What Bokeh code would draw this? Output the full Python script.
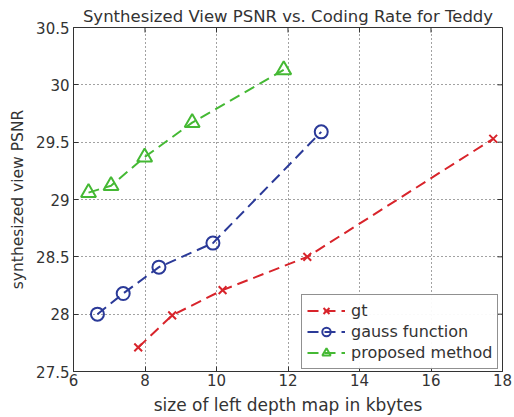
from bokeh.plotting import figure
from bokeh.models import Range1d, FixedTicker, Legend, LegendItem
from bokeh.embed import file_html
from bokeh.resources import INLINE

gt_x = [7.81, 8.76, 10.17, 12.54, 17.74]
gt_y = [27.71, 27.99, 28.21, 28.50, 29.53]
gauss_x = [6.67, 7.39, 8.39, 9.90, 12.93]
gauss_y = [28.00, 28.18, 28.41, 28.62, 29.59]
prop_x = [6.42, 7.05, 7.99, 9.32, 11.88]
prop_y = [29.06, 29.12, 29.37, 29.67, 30.13]

x_ticks = [6, 8, 10, 12, 14, 16, 18]
y_ticks = [27.5, 28, 28.5, 29, 29.5, 30, 30.5]

FONT = "DejaVu Sans"
TXT = "#333333"

p = figure(width=514, height=417, output_backend="svg", toolbar_location=None,
           x_range=Range1d(6, 18), y_range=Range1d(27.5, 30.5),
           min_border_left=73, min_border_right=12, min_border_top=27, min_border_bottom=46,
           title="Synthesized View PSNR vs. Coding Rate for Teddy")
p.title.align = "center"
p.title.text_font = FONT
p.title.text_font_size = "16.5px"
p.title.text_font_style = "normal"
p.title.text_color = TXT
p.title.standoff = 3
p.title.offset = 0

p.outline_line_color = "#333333"
p.outline_line_width = 1

for ax in (p.xaxis[0], p.yaxis[0]):
    ax.major_label_text_font = FONT
    ax.major_label_text_font_size = "15px"
    ax.major_label_text_color = TXT
    ax.axis_label_text_font = FONT
    ax.axis_label_text_font_style = "normal"
    ax.axis_label_text_color = TXT
    ax.major_tick_in = 5
    ax.major_tick_out = 0
    ax.minor_tick_line_color = None
    ax.axis_line_color = "#333333"
    ax.major_tick_line_color = "#333333"

p.xaxis.axis_label_text_font_size = "17px"
p.yaxis.axis_label_text_font_size = "15.5px"
p.xaxis.ticker = FixedTicker(ticks=x_ticks)
p.yaxis.ticker = FixedTicker(ticks=y_ticks)
p.xaxis.axis_label = "size of left depth map in kbytes"
p.yaxis.axis_label = "synthesized view PSNR"
p.xaxis.major_label_standoff = 2
p.yaxis.major_label_standoff = 4
p.xaxis.axis_label_standoff = 6
p.yaxis.axis_label_standoff = 6

p.xgrid.ticker = FixedTicker(ticks=x_ticks)
p.ygrid.ticker = FixedTicker(ticks=y_ticks)
for g in (p.xgrid[0], p.ygrid[0]):
    g.grid_line_color = "#444444"
    g.grid_line_dash = "1 3"
    g.grid_line_width = 1

# inward tick marks on the top and right edges of the box (clipped to the frame)
top_x = x_ticks[1:-1]
right_y = y_ticks[1:-1]
p.scatter(top_x, [y_ticks[-1]] * len(top_x), marker="dash", size=10, angle=1.5708,
          line_color="#333333", line_width=1)
p.scatter([x_ticks[-1]] * len(right_y), right_y, marker="dash", size=10,
          line_color="#333333", line_width=1)

gl = p.line(gt_x, gt_y, line_color="#d8242b", line_width=2, line_dash="11 6")
gm = p.scatter(gt_x, gt_y, marker="x", size=11, line_color="#d8242b", line_width=2)
bl = p.line(gauss_x, gauss_y, line_color="#2b3a98", line_width=2, line_dash="11 6")
bm = p.scatter(gauss_x, gauss_y, marker="circle", size=13, line_color="#2b3a98",
               fill_color=None, line_width=2)
pl = p.line(prop_x, prop_y, line_color="#45b934", line_width=2, line_dash="11 6")
pm = p.scatter(prop_x, prop_y, marker="triangle", size=15, line_color="#45b934",
               fill_color=None, line_width=2)

legend = Legend(items=[
    LegendItem(label="gt", renderers=[gl, gm]),
    LegendItem(label="gauss function", renderers=[bl, bm]),
    LegendItem(label="proposed method", renderers=[pl, pm]),
], location=(228, 2))
legend.label_text_font = FONT
legend.label_text_font_size = "16px"
legend.label_text_color = TXT
legend.border_line_color = "#222222"
legend.border_line_width = 1
legend.glyph_width = 38
legend.glyph_height = 21
legend.label_height = 21
legend.spacing = 0
legend.padding = 5
legend.margin = 0
legend.label_standoff = 6
p.add_layout(legend, "center")

open("out.html", "w").write(file_html(p, INLINE))
